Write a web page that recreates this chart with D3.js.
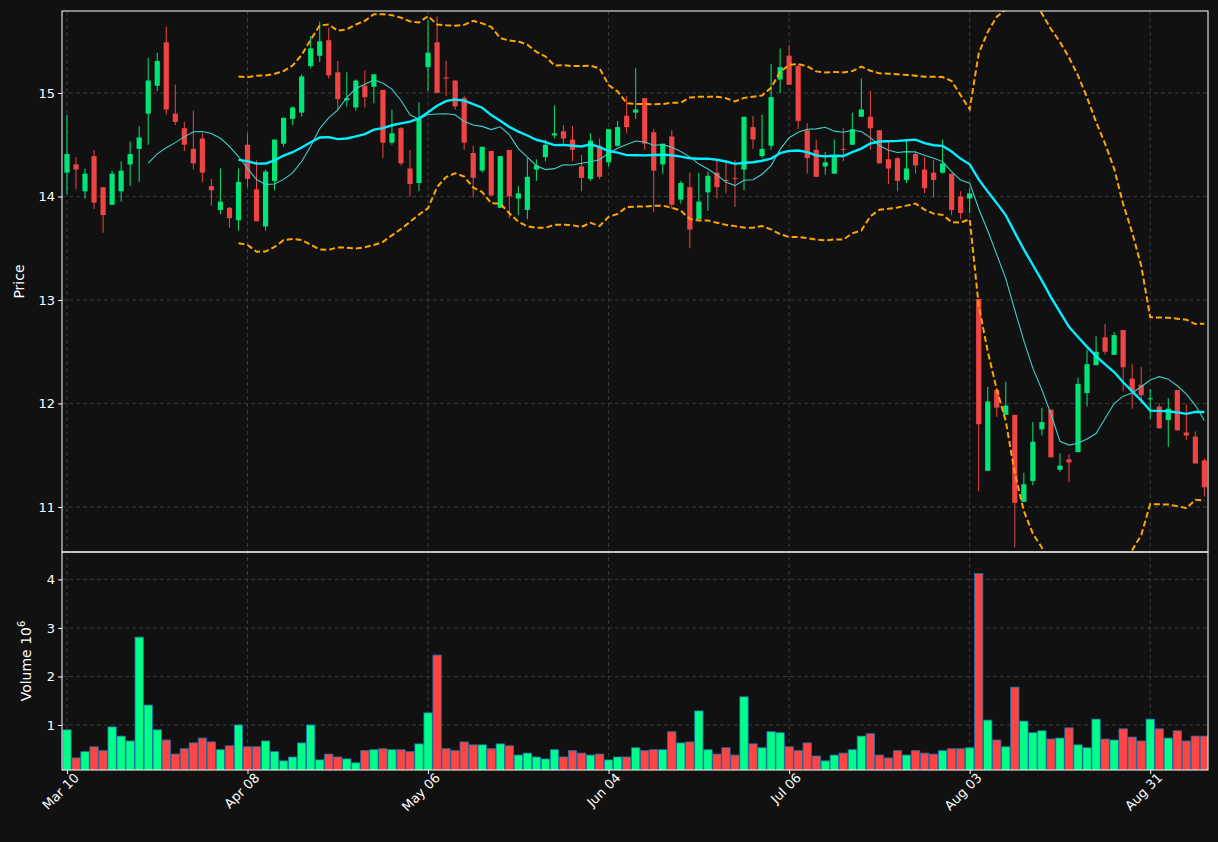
<!DOCTYPE html>
<html>
<head>
<meta charset="utf-8">
<script src="https://cdn.jsdelivr.net/npm/d3@7"></script>
<style>
  body { margin: 0; background: #111111; }
  svg text { font-family: "DejaVu Sans", sans-serif; fill: #ffffff; }
</style>
</head>
<body>
<svg id="chart" width="1218" height="842"></svg>
<script>
// OHLC, one entry per trading day
var opens = [14.23,14.31,14.05,14.39,14.09,13.92,14.05,14.31,14.46,14.80,15.07,15.49,14.80,14.66,14.46,14.56,14.10,13.87,13.89,13.77,
  14.50,14.07,13.71,14.15,14.51,14.75,14.81,15.26,15.36,15.51,15.20,14.93,14.86,15.07,15.06,15.03,14.52,14.66,14.27,14.13,
  15.25,15.49,15.15,15.12,14.95,14.42,14.25,14.44,13.89,14.45,13.98,13.87,14.26,14.38,14.59,14.63,14.55,14.29,14.17,14.49,
  14.33,14.49,14.78,14.81,14.95,14.62,14.31,14.58,13.97,14.09,13.78,14.04,14.23,14.16,14.18,14.26,14.67,14.39,14.49,15.13,
  15.36,15.26,14.64,14.45,14.29,14.22,14.46,14.50,14.77,14.77,14.64,14.36,14.37,14.16,14.41,14.26,14.23,14.23,14.22,14.00,
  13.98,13.01,11.35,12.13,11.89,11.89,11.05,11.25,11.75,11.94,11.36,11.46,11.53,12.10,12.37,12.64,12.47,12.71,12.24,12.18,
  12.04,11.97,11.84,12.13,11.72,11.68,11.45];
var highs = [14.79,14.38,14.27,14.45,14.09,14.25,14.34,14.53,14.68,15.34,15.39,15.64,15.08,14.72,14.83,14.61,14.17,14.27,13.90,14.27,
  14.61,14.35,14.26,14.55,14.76,14.87,15.18,15.55,15.69,15.63,15.31,15.20,15.13,15.22,15.18,15.03,14.84,14.67,14.45,14.91,
  15.70,15.74,15.31,15.12,14.97,14.49,14.48,14.44,14.39,14.45,14.10,14.37,14.36,14.55,14.88,14.69,14.68,14.40,14.61,14.56,
  14.65,14.73,14.97,15.24,14.95,14.65,14.51,14.64,14.15,14.23,14.23,14.24,14.35,14.34,14.35,14.77,14.78,14.79,15.28,15.43,
  15.46,15.28,14.71,14.55,14.43,14.55,14.66,14.81,15.14,15.02,14.64,14.53,14.38,14.54,14.44,14.38,14.35,14.55,14.22,14.05,
  14.08,13.01,12.16,12.13,12.21,11.89,11.33,11.82,11.96,11.94,11.52,11.51,12.25,12.52,12.65,12.77,12.69,12.71,12.38,12.35,
  12.14,12.00,12.05,12.13,11.99,11.73,11.47];
var lows = [14.02,14.07,13.98,13.88,13.65,13.92,13.95,14.10,14.14,14.50,15.02,14.79,14.69,14.44,14.26,14.14,13.91,13.83,13.70,13.67,
  14.09,13.76,13.67,14.06,14.48,14.69,14.77,15.24,15.30,15.14,14.84,14.87,14.83,14.86,14.90,14.37,14.50,14.30,14.00,14.05,
  15.02,15.00,14.97,14.84,14.45,13.99,14.23,14.01,13.89,13.79,13.82,13.78,14.15,14.34,14.56,14.51,14.34,14.05,14.15,14.17,
  14.29,14.48,14.61,14.75,14.45,13.85,14.22,13.88,13.93,13.50,13.78,13.86,13.98,14.03,13.90,14.06,14.46,14.37,14.45,15.00,
  15.08,14.65,14.22,14.19,14.21,14.22,14.34,14.50,14.77,14.45,14.32,14.12,14.05,14.13,14.22,14.03,13.99,14.22,13.82,13.78,
  13.84,11.15,11.35,11.87,11.89,10.61,11.05,11.21,11.69,11.48,11.34,11.24,11.53,11.97,12.37,12.47,12.47,12.12,11.95,12.00,
  11.85,11.76,11.58,11.74,11.65,11.42,11.10];
var closes = [14.41,14.26,14.22,13.94,13.82,14.22,14.25,14.41,14.57,15.12,15.31,14.84,14.72,14.50,14.32,14.23,14.06,13.95,13.79,14.14,
  14.17,13.76,14.24,14.55,14.76,14.86,15.16,15.43,15.50,15.17,14.94,14.95,15.12,14.96,15.18,14.52,14.61,14.32,14.12,14.75,
  15.39,15.00,15.14,14.87,14.52,14.18,14.48,14.01,14.39,14.00,14.03,14.19,14.30,14.50,14.61,14.56,14.45,14.18,14.54,14.19,
  14.65,14.67,14.67,14.84,14.51,14.25,14.51,13.92,14.13,13.68,13.95,14.20,14.09,14.15,14.17,14.77,14.55,14.46,14.96,15.25,
  15.08,14.73,14.37,14.19,14.33,14.39,14.45,14.65,14.84,14.66,14.32,14.27,14.15,14.27,14.30,14.08,14.16,14.32,13.87,13.84,
  14.03,11.80,12.02,11.96,11.98,11.04,11.22,11.63,11.82,11.48,11.40,11.43,12.19,12.38,12.50,12.50,12.66,12.35,12.12,12.08,
  12.05,11.76,11.95,11.74,11.69,11.42,11.19];
// volume in millions, and bar colour flag (1 = up, 0 = down)
var volumes = [0.90,0.32,0.45,0.55,0.47,0.96,0.77,0.67,2.81,1.41,0.90,0.69,0.40,0.51,0.63,0.73,0.65,0.49,0.57,1.00,
  0.55,0.55,0.67,0.45,0.26,0.34,0.63,1.00,0.28,0.40,0.34,0.30,0.22,0.47,0.49,0.51,0.49,0.49,0.45,0.61,
  1.25,2.44,0.51,0.47,0.65,0.59,0.59,0.51,0.61,0.57,0.38,0.42,0.34,0.30,0.49,0.34,0.47,0.42,0.38,0.40,
  0.28,0.34,0.34,0.53,0.47,0.49,0.49,0.86,0.63,0.65,1.29,0.49,0.40,0.53,0.38,1.58,0.61,0.53,0.86,0.84,
  0.55,0.47,0.63,0.36,0.26,0.38,0.42,0.49,0.77,0.82,0.38,0.32,0.47,0.38,0.47,0.42,0.40,0.47,0.51,0.51,
  0.53,4.12,1.10,0.69,0.55,1.78,1.08,0.84,0.88,0.71,0.73,0.94,0.59,0.53,1.12,0.71,0.69,0.92,0.75,0.67,
  1.12,0.92,0.73,0.88,0.67,0.77,0.77];
var volumeUp = [1,0,1,0,0,1,1,1,1,1,1,0,0,0,0,0,0,1,0,1,
  0,0,1,1,1,1,1,1,1,0,0,1,1,0,1,0,1,0,0,1,
  1,0,0,0,0,0,1,0,1,0,1,1,1,1,1,0,0,0,1,0,
  1,1,0,1,0,0,1,0,1,0,1,1,0,0,0,1,0,1,1,1,
  0,0,0,0,1,1,0,1,1,0,0,0,0,1,0,0,0,1,0,0,
  1,0,1,0,1,0,1,1,1,0,1,0,1,1,1,0,1,0,0,0,
  1,0,1,0,0,0,0];
var tickIndex = [0, 20, 40, 60, 80, 100, 120];
var tickLabels = ["Mar 10", "Apr 08", "May 06", "Jun 04", "Jul 06", "Aug 03", "Aug 31"];
var priceTicks = [11, 12, 13, 14, 15];
var volumeTicks = [1, 2, 3, 4];

var svg = d3.select("#chart");
var left = 62, right = 1208, priceTop = 11, priceBottom = 552, volBottom = 770;
var n = closes.length;

function rolling(win, fn) {
    return closes.map(function (c, i) {
        if (i < win - 1) return null;
        return fn(closes.slice(i - win + 1, i + 1));
    });
}
var ma10 = rolling(10, d3.mean);
var ma20 = rolling(20, d3.mean);
var sd20 = rolling(20, d3.deviation);
var upper = ma20.map(function (m, i) { return m === null ? null : m + 2 * sd20[i]; });
var lower = ma20.map(function (m, i) { return m === null ? null : m - 2 * sd20[i]; });

var x = d3.scaleLinear().domain([-0.55, n - 0.6]).range([left, right]);
var y = d3.scaleLinear().domain([10.565, 15.792]).range([priceBottom, priceTop]);
var yv = d3.scaleLinear().domain([0.072, 4.565]).range([volBottom, priceBottom]);
var step = x(1) - x(0);

svg.append("defs").append("clipPath").attr("id", "pclip")
    .append("rect").attr("x", left).attr("y", priceTop).attr("width", right - left).attr("height", priceBottom - priceTop);
svg.select("defs").append("clipPath").attr("id", "vclip")
    .append("rect").attr("x", left).attr("y", priceBottom).attr("width", right - left).attr("height", volBottom - priceBottom);

// grid
var grid = svg.append("g").attr("stroke", "#3a3a3a").attr("stroke-dasharray", "4,3").attr("stroke-width", 1);
tickIndex.forEach(function (t) {
    grid.append("line").attr("x1", x(t)).attr("x2", x(t)).attr("y1", priceTop).attr("y2", volBottom);
});
priceTicks.forEach(function (t) {
    grid.append("line").attr("x1", left).attr("x2", right).attr("y1", y(t)).attr("y2", y(t));
});
volumeTicks.forEach(function (t) {
    grid.append("line").attr("x1", left).attr("x2", right).attr("y1", yv(t)).attr("y2", yv(t));
});

// candles
var pg = svg.append("g").attr("clip-path", "url(#pclip)");
var candle = pg.selectAll("g.candle").data(d3.range(n)).enter().append("g");
candle.append("line")
    .attr("x1", function (i) { return x(i); }).attr("x2", function (i) { return x(i); })
    .attr("y1", function (i) { return y(highs[i]); }).attr("y2", function (i) { return y(lows[i]); })
    .attr("stroke", function (i) { return closes[i] >= opens[i] ? "#00e676" : "#ef4444"; })
    .attr("stroke-width", 1);
candle.append("rect")
    .attr("x", function (i) { return x(i) - 2.6; })
    .attr("width", 5.2)
    .attr("y", function (i) { return y(Math.max(opens[i], closes[i])); })
    .attr("height", function (i) { return Math.max(1, Math.abs(y(opens[i]) - y(closes[i]))); })
    .attr("fill", function (i) { return closes[i] >= opens[i] ? "#00e676" : "#ef4444"; });

function drawLine(values, color, width, dash) {
    var line = d3.line()
        .defined(function (d) { return d !== null; })
        .x(function (d, i) { return x(i); })
        .y(function (d) { return y(d); });
    pg.append("path").datum(values)
        .attr("fill", "none").attr("stroke", color).attr("stroke-width", width)
        .attr("stroke-dasharray", dash || null)
        .attr("d", line);
}
drawLine(ma10, "#40d0c8", 1.1);
drawLine(ma20, "#00f0ff", 2.4);
drawLine(upper, "#ffa500", 2, "6,3");
drawLine(lower, "#ffa500", 2, "6,3");

// volume
var vg = svg.append("g").attr("clip-path", "url(#vclip)");
vg.selectAll("rect").data(d3.range(n)).enter().append("rect")
    .attr("x", function (i) { return x(i) - step * 0.46; })
    .attr("width", step * 0.92)
    .attr("y", function (i) { return yv(volumes[i]); })
    .attr("height", function (i) { return volBottom + 5 - yv(volumes[i]); })
    .attr("fill", function (i) { return volumeUp[i] ? "#00ff88" : "#ff4444"; })
    .attr("stroke", "#1f77b4").attr("stroke-width", 0.8);

// frames
svg.append("rect").attr("x", left).attr("y", priceTop).attr("width", right - left).attr("height", priceBottom - priceTop)
    .attr("fill", "none").attr("stroke", "#ffffff").attr("stroke-width", 1);
svg.append("rect").attr("x", left).attr("y", priceBottom).attr("width", right - left).attr("height", volBottom - priceBottom)
    .attr("fill", "none").attr("stroke", "#ffffff").attr("stroke-width", 1);

// axes
var pAxis = svg.append("g").attr("transform", "translate(" + left + ",0)")
    .call(d3.axisLeft(y).tickValues(priceTicks).tickSize(4).tickFormat(d3.format("d")));
var vAxis = svg.append("g").attr("transform", "translate(" + left + ",0)")
    .call(d3.axisLeft(yv).tickValues(volumeTicks).tickSize(4).tickFormat(d3.format("d")));
var xAxis = svg.append("g").attr("transform", "translate(0," + volBottom + ")")
    .call(d3.axisBottom(x).tickValues(tickIndex).tickSize(4)
        .tickFormat(function (d, i) { return tickLabels[i]; }));
[pAxis, vAxis, xAxis].forEach(function (a) {
    a.select(".domain").remove();
    a.selectAll("line").attr("stroke", "#ffffff");
    a.selectAll("text").attr("fill", "#ffffff").style("font-size", "13px");
});
xAxis.selectAll("text")
    .attr("text-anchor", "end")
    .attr("dx", "0.2em").attr("dy", "0.6em")
    .attr("transform", "rotate(-45)");

svg.append("text").attr("transform", "translate(24," + ((priceTop + priceBottom) / 2) + ") rotate(-90)")
    .attr("text-anchor", "middle").style("font-size", "14px").text("Price");
var vl = svg.append("text").attr("transform", "translate(31," + ((priceBottom + volBottom) / 2) + ") rotate(-90)")
    .attr("text-anchor", "middle").style("font-size", "14px");
vl.append("tspan").text("Volume  10");
vl.append("tspan").attr("dy", "-6").style("font-size", "10px").text("6");
</script>
</body>
</html>
